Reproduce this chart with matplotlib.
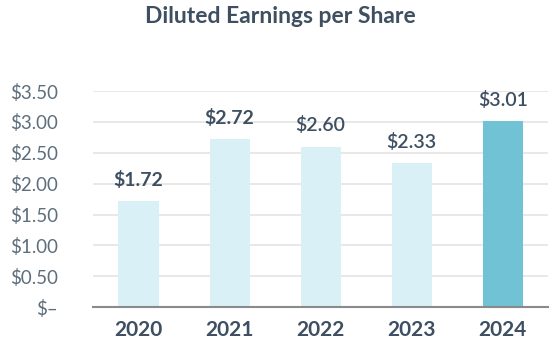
# bar chart of diluted EPS by year
import matplotlib.pyplot as plt

years = ['2020', '2021', '2022', '2023', '2024']
eps = [1.72, 2.72, 2.60, 2.33, 3.01]
eps_labels = ['$1.72', '$2.72', '$2.60', '$2.33', '$3.01']
label_weights = ['bold', 'bold', 'semibold', 'semibold', 'semibold']
yticks = [0, 0.5, 1.0, 1.5, 2.0, 2.5, 3.0, 3.5]
ytick_labels = ['$–', '$0.50', '$1.00', '$1.50', '$2.00', '$2.50', '$3.00', '$3.50']

plt.rcParams['font.family'] = ['Lato', 'DejaVu Sans']

light = '#d9f0f6'
dark = '#72c2d6'
text_col = '#3d4f60'

fig = plt.figure(figsize=(5.6, 3.6), dpi=100)
ax = fig.add_axes([0.166, 0.147, 0.813, 0.6])

colors = [light] * (len(years) - 1) + [dark]
x = range(len(years))
ax.bar(x, eps, width=0.44, color=colors, zorder=2)

# value labels above bars
for i, v in enumerate(eps):
    ax.text(i, v + 0.2, eps_labels[i], ha='center', va='bottom', fontsize=14,
            fontweight=label_weights[i], color=text_col)

ax.set_xlim(-0.5, 4.5)
ax.set_ylim(0, 3.5)
ax.set_yticks(yticks)
ax.set_yticklabels(ytick_labels, fontsize=13.5, color='#5d6e7c')
ax.set_xticks(list(x))
ax.set_xticklabels(years, fontsize=15, fontweight='bold', color=text_col)
ax.tick_params(axis='both', length=0)
ax.tick_params(axis='y', pad=25)
ax.tick_params(axis='x', pad=9)

ax.grid(axis='y', color='#e4e4e4', linewidth=1.2, zorder=0)
for s in ['top', 'right', 'left']:
    ax.spines[s].set_visible(False)
ax.spines['bottom'].set_color('#8a8a8a')
ax.spines['bottom'].set_linewidth(1.5)
ax.spines['bottom'].set_zorder(3)

fig.text(0.5, 0.955, 'Diluted Earnings per Share', ha='center', va='center',
         fontsize=16.5, fontweight='bold', color=text_col)

plt.savefig('out.png', dpi=100)
